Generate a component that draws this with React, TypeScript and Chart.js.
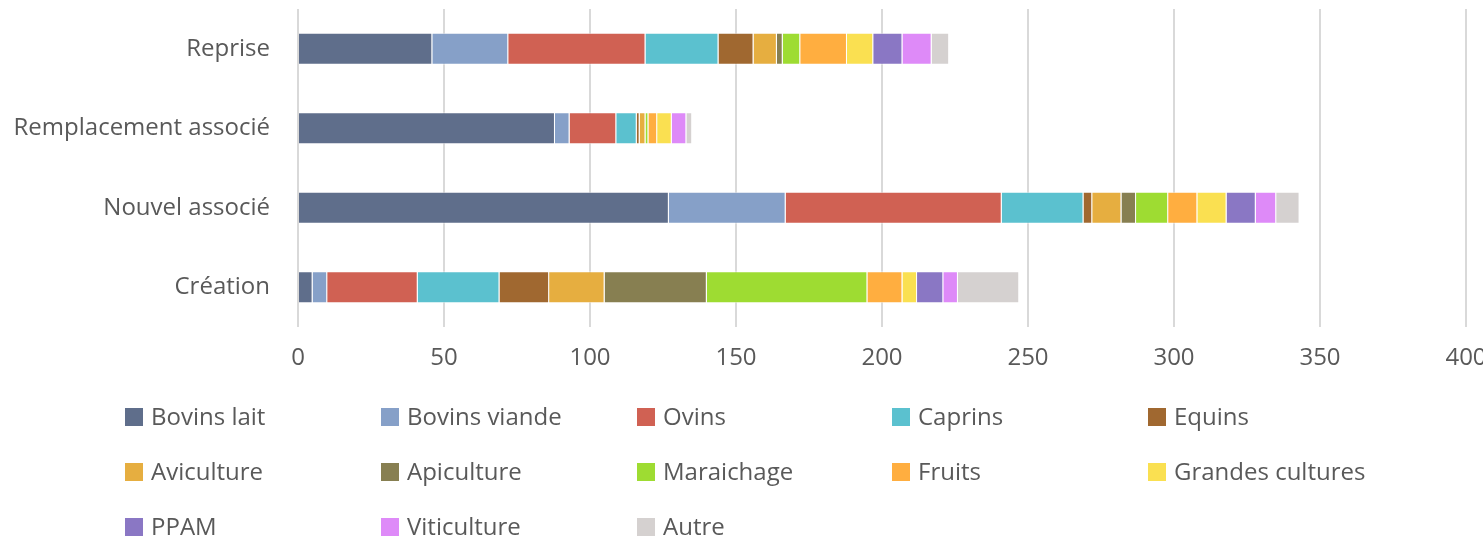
import React, { useEffect, useRef } from "react";
import { Chart, registerables } from "chart.js";

Chart.register(...registerables);

const categories = ["Reprise", "Remplacement associé", "Nouvel associé", "Création"];

const seriesNames = [
  "Bovins lait",
  "Bovins viande",
  "Ovins",
  "Caprins",
  "Equins",
  "Aviculture",
  "Apiculture",
  "Maraichage",
  "Fruits",
  "Grandes cultures",
  "PPAM",
  "Viticulture",
  "Autre",
];

const bovinsLait = [46, 88, 127, 5];
const bovinsViande = [26, 5, 40, 5];
const ovins = [47, 16, 74, 31];
const caprins = [25, 7, 28, 28];
const equins = [12, 1, 3, 17];
const aviculture = [8, 2, 10, 19];
const apiculture = [2, 0, 5, 35];
const maraichage = [6, 1, 11, 55];
const fruits = [16, 3, 10, 12];
const grandesCultures = [9, 5, 10, 5];
const ppam = [10, 0, 10, 9];
const viticulture = [10, 5, 7, 5];
const autre = [6, 2, 8, 21];

const seriesValues = [
  bovinsLait,
  bovinsViande,
  ovins,
  caprins,
  equins,
  aviculture,
  apiculture,
  maraichage,
  fruits,
  grandesCultures,
  ppam,
  viticulture,
  autre,
];

const colors = [
  "#5f6e8b",
  "#86a0c8",
  "#d06153",
  "#5bc1cf",
  "#a06830",
  "#e6ae40",
  "#877f51",
  "#9edc32",
  "#ffae40",
  "#fae051",
  "#8a77c4",
  "#de8af8",
  "#d5d1d0",
];

const xTicks = [0, 50, 100, 150, 200, 250, 300, 350, 400];

const FONT = "'Open Sans', sans-serif";
const TEXT_COLOR = "#595959";

const legendPlugin = {
  id: "gridLegend",
  afterDraw(chart: any) {
    const ctx = chart.ctx;
    const colX = [125, 381, 637, 892, 1148];
    const rowY = [417, 472, 527];
    ctx.save();
    ctx.font = `24px ${FONT}`;
    ctx.textBaseline = "middle";
    ctx.textAlign = "left";
    chart.data.datasets.forEach((ds: any, i: number) => {
      const c = i % 5;
      const r = Math.floor(i / 5);
      const x = colX[c];
      const y = rowY[r];
      ctx.fillStyle = ds.backgroundColor;
      ctx.fillRect(x, y - 9, 18, 18);
      ctx.fillStyle = TEXT_COLOR;
      ctx.fillText(ds.label, x + 26, y + 1);
    });
    ctx.restore();
  },
};

export default function App() {
  const canvasRef = useRef<HTMLCanvasElement | null>(null);

  useEffect(() => {
    if (!canvasRef.current) return;
    const chart = new Chart(canvasRef.current, {
      type: "bar",
      data: {
        labels: categories,
        datasets: seriesNames.map((name, i) => ({
          label: name,
          data: seriesValues[i],
          backgroundColor: colors[i],
          borderColor: "rgba(255,255,255,0.6)",
          borderWidth: 1,
          barPercentage: 0.4,
          categoryPercentage: 1,
        })),
      },
      options: {
        indexAxis: "y",
        animation: false,
        responsive: true,
        maintainAspectRatio: false,
        layout: { padding: { top: 9, left: 0, right: 17, bottom: 0 } },
        plugins: {
          legend: { display: false },
          tooltip: { enabled: false },
        },
        scales: {
          x: {
            stacked: true,
            min: 0,
            max: 400,
            afterBuildTicks(scale: any) {
              scale.ticks = xTicks.map((v) => ({ value: v }));
            },
            afterFit(scale: any) {
              scale.height = 211;
              scale.paddingLeft = 0;
              scale.paddingRight = 0;
              scale.paddingTop = 0;
              scale.paddingBottom = 0;
            },
            grid: { color: "#d9d9d9", lineWidth: 2, drawTicks: false },
            border: { display: false },
            ticks: {
              padding: 17,
              color: TEXT_COLOR,
              font: { family: FONT, size: 24 },
              maxRotation: 0,
            },
          },
          y: {
            stacked: true,
            afterFit(scale: any) {
              scale.width = 298;
              scale.paddingLeft = 0;
              scale.paddingRight = 0;
              scale.paddingTop = 0;
              scale.paddingBottom = 0;
            },
            grid: { display: false, drawTicks: false },
            border: { display: false },
            ticks: {
              padding: 28,
              color: TEXT_COLOR,
              font: { family: FONT, size: 24 },
            },
          },
        },
      },
      plugins: [legendPlugin],
    });
    return () => chart.destroy();
  }, []);

  return (
    <div style={{ position: "absolute", left: 0, top: 0, width: 1483, height: 538 }}>
      <canvas ref={canvasRef} />
    </div>
  );
}
